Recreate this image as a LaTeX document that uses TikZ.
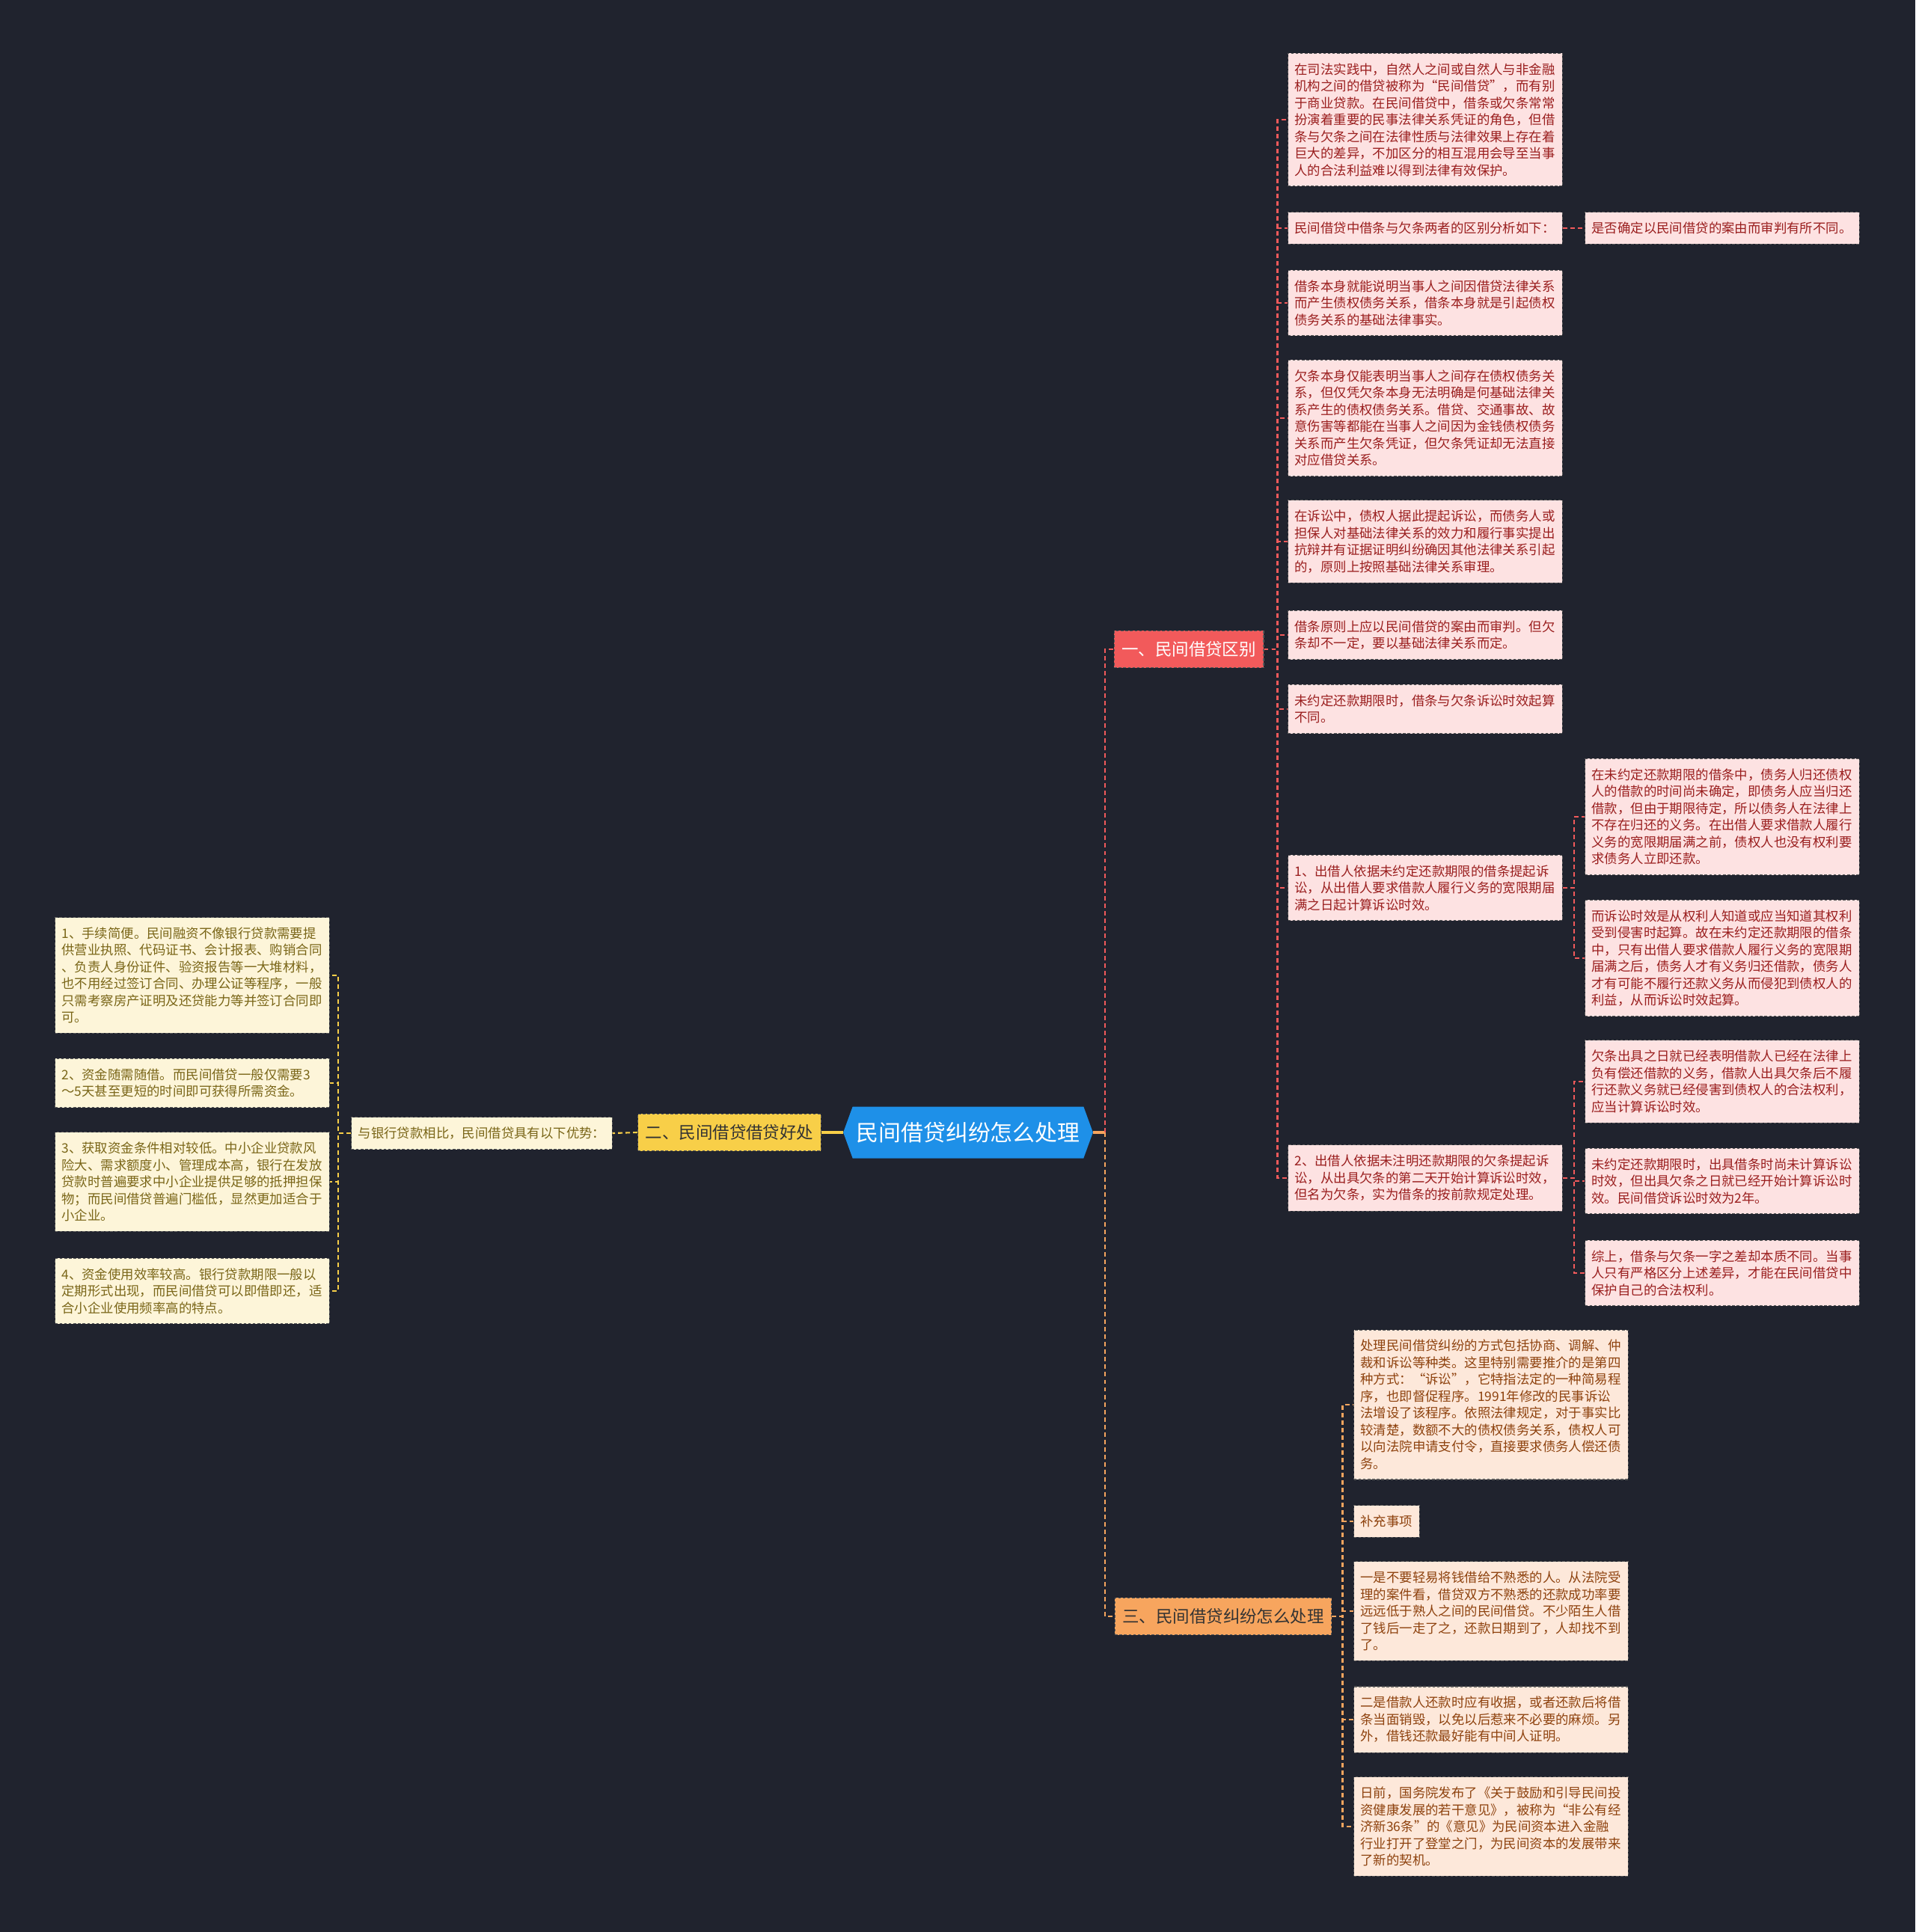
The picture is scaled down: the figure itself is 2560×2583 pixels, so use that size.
\documentclass[tikz,border=0pt]{standalone}
\usepackage{fontspec}
\setmainfont{Noto Sans CJK SC}
\usetikzlibrary{shapes.symbols}
\definecolor{bgnavy}{HTML}{20232E}
\definecolor{rootblue}{HTML}{1E90E8}
\definecolor{redmain}{HTML}{F25A5B}
\definecolor{redfill}{HTML}{FDE2E2}
\definecolor{redtext}{HTML}{9A1E1E}
\definecolor{yellowmain}{HTML}{F8CF48}
\definecolor{yellowfill}{HTML}{FDF5D9}
\definecolor{yellowtext}{HTML}{7A6618}
\definecolor{orangemain}{HTML}{F7A55E}
\definecolor{orangefill}{HTML}{FDE8DA}
\definecolor{orangetext}{HTML}{8E420E}
\begin{document}
\begin{tikzpicture}[x=0.02cm, y=-0.02cm,
  boxedge/.style={draw=black!65, dashed, dash pattern=on 2pt off 1.5pt, line width=0.6pt},
  leafbox/.style={boxedge, align=left, text width=6.98cm, inner xsep=0.18cm, inner ysep=0.265cm, font=\fontsize{9.9pt}{12.8pt}\selectfont},
  redleaf/.style={leafbox, fill=redfill, text=redtext},
  yellowleaf/.style={leafbox, fill=yellowfill, text=yellowtext},
  orangeleaf/.style={leafbox, fill=orangefill, text=orangetext},
  branchbox/.style={boxedge, inner xsep=0.2cm, inner ysep=0.285cm, font=\fontsize{12.8pt}{15pt}\selectfont},
  rootbox/.style={signal, signal to=west and east, signal pointer angle=140, fill=rootblue, text=white, minimum width=6.56cm, minimum height=1.38cm, inner xsep=0.1cm, font=\fontsize{17pt}{20pt}\selectfont},
  linkbase/.style={line width=1.2pt, dashed, dash pattern=on 3.4pt off 2.3pt},
  redlink/.style={linkbase, draw=redmain},
  yellowlink/.style={linkbase, draw=yellowmain},
  orangelink/.style={linkbase, draw=orangemain}]

\fill[bgnavy] (0,0) rectangle (2560,2583);

% centre and first level
\node[rootbox] (root) at (1294,1514) {民间借贷纠纷怎么处理};
\node[branchbox, fill=redmain, text=white] (b1) at (1589,868) {一、民间借贷区别};
\node[branchbox, fill=yellowmain, text=black!80] (b2) at (975,1514) {二、民间借贷借贷好处};
\node[branchbox, fill=orangemain, text=black!80] (b3) at (1635,2161) {三、民间借贷纠纷怎么处理};

% branch one
\node[redleaf] (r1) at (1905,160) {在司法实践中，自然人之间或自然人与非金融\\机构之间的借贷被称为“民间借贷”，而有别\\于商业贷款。在民间借贷中，借条或欠条常常\\扮演着重要的民事法律关系凭证的角色，但借\\条与欠条之间在法律性质与法律效果上存在着\\巨大的差异，不加区分的相互混用会导至当事\\人的合法利益难以得到法律有效保护。};
\node[redleaf] (r2) at (1905,305) {民间借贷中借条与欠条两者的区别分析如下：};
\node[redleaf] (r2a) at (2302,305) {是否确定以民间借贷的案由而审判有所不同。};
\node[redleaf] (r3) at (1905,405) {借条本身就能说明当事人之间因借贷法律关系\\而产生债权债务关系，借条本身就是引起债权\\债务关系的基础法律事实。};
\node[redleaf] (r4) at (1905,559) {欠条本身仅能表明当事人之间存在债权债务关\\系，但仅凭欠条本身无法明确是何基础法律关\\系产生的债权债务关系。借贷、交通事故、故\\意伤害等都能在当事人之间因为金钱债权债务\\关系而产生欠条凭证，但欠条凭证却无法直接\\对应借贷关系。};
\node[redleaf] (r5) at (1905,724) {在诉讼中，债权人据此提起诉讼，而债务人或\\担保人对基础法律关系的效力和履行事实提出\\抗辩并有证据证明纠纷确因其他法律关系引起\\的，原则上按照基础法律关系审理。};
\node[redleaf] (r6) at (1905,849) {借条原则上应以民间借贷的案由而审判。但欠\\条却不一定，要以基础法律关系而定。};
\node[redleaf] (r7) at (1905,948) {未约定还款期限时，借条与欠条诉讼时效起算\\不同。};
\node[redleaf] (r8) at (1905,1187) {1、出借人依据未约定还款期限的借条提起诉\\讼，从出借人要求借款人履行义务的宽限期届\\满之日起计算诉讼时效。};
\node[redleaf] (r9) at (1905,1575) {2、出借人依据未注明还款期限的欠条提起诉\\讼，从出具欠条的第二天开始计算诉讼时效，\\但名为欠条，实为借条的按前款规定处理。};
\node[redleaf] (r8a) at (2302,1092) {在未约定还款期限的借条中，债务人归还债权\\人的借款的时间尚未确定，即债务人应当归还\\借款，但由于期限待定，所以债务人在法律上\\不存在归还的义务。在出借人要求借款人履行\\义务的宽限期届满之前，债权人也没有权利要\\求债务人立即还款。};
\node[redleaf] (r8b) at (2302,1281) {而诉讼时效是从权利人知道或应当知道其权利\\受到侵害时起算。故在未约定还款期限的借条\\中，只有出借人要求借款人履行义务的宽限期\\届满之后，债务人才有义务归还借款，债务人\\才有可能不履行还款义务从而侵犯到债权人的\\利益，从而诉讼时效起算。};
\node[redleaf] (r9a) at (2302,1446) {欠条出具之日就已经表明借款人已经在法律上\\负有偿还借款的义务，借款人出具欠条后不履\\行还款义务就已经侵害到债权人的合法权利，\\应当计算诉讼时效。};
\node[redleaf] (r9b) at (2302,1579) {未约定还款期限时，出具借条时尚未计算诉讼\\时效，但出具欠条之日就已经开始计算诉讼时\\效。民间借贷诉讼时效为2年。};
\node[redleaf] (r9c) at (2302,1702) {综上，借条与欠条一字之差却本质不同。当事\\人只有严格区分上述差异，才能在民间借贷中\\保护自己的合法权利。};

% branch two
\node[yellowleaf, text width=, align=center] (sub) at (644,1515) {与银行贷款相比，民间借贷具有以下优势：};
\node[yellowleaf] (l1) at (257,1304) {1、手续简便。民间融资不像银行贷款需要提\\供营业执照、代码证书、会计报表、购销合同\\、负责人身份证件、验资报告等一大堆材料，\\也不用经过签订合同、办理公证等程序，一般\\只需考察房产证明及还贷能力等并签订合同即\\可。};
\node[yellowleaf] (l2) at (257,1448) {2、资金随需随借。而民间借贷一般仅需要3\\～5天甚至更短的时间即可获得所需资金。};
\node[yellowleaf] (l3) at (257,1580) {3、获取资金条件相对较低。中小企业贷款风\\险大、需求额度小、管理成本高，银行在发放\\贷款时普遍要求中小企业提供足够的抵押担保\\物；而民间借贷普遍门槛低，显然更加适合于\\小企业。};
\node[yellowleaf] (l4) at (257,1726) {4、资金使用效率较高。银行贷款期限一般以\\定期形式出现，而民间借贷可以即借即还，适\\合小企业使用频率高的特点。};

% branch three
\node[orangeleaf] (c1) at (1993,1878) {处理民间借贷纠纷的方式包括协商、调解、仲\\裁和诉讼等种类。这里特别需要推介的是第四\\种方式：“诉讼”，它特指法定的一种简易程\\序，也即督促程序。1991年修改的民事诉讼\\法增设了该程序。依照法律规定，对于事实比\\较清楚，数额不大的债权债务关系，债权人可\\以向法院申请支付令，直接要求债务人偿还债\\务。};
\node[orangeleaf, text width=, align=center, anchor=west] (c2) at (1809,2034) {补充事项};
\node[orangeleaf] (c3) at (1993,2154) {一是不要轻易将钱借给不熟悉的人。从法院受\\理的案件看，借贷双方不熟悉的还款成功率要\\远远低于熟人之间的民间借贷。不少陌生人借\\了钱后一走了之，还款日期到了，人却找不到\\了。};
\node[orangeleaf] (c4) at (1993,2299) {二是借款人还款时应有收据，或者还款后将借\\条当面销毁，以免以后惹来不必要的麻烦。另\\外，借钱还款最好能有中间人证明。};
\node[orangeleaf] (c5) at (1993,2442) {日前，国务院发布了《关于鼓励和引导民间投\\资健康发展的若干意见》，被称为“非公有经\\济新36条”的《意见》为民间资本进入金融\\行业打开了登堂之门，为民间资本的发展带来\\了新的契机。};

% connectors
\draw[line width=2pt, draw=orangemain] (root.east) -- ++(16,0) coordinate (hub);
\draw[redlink] (hub) |- (b1.west);
\draw[orangelink] (hub) |- (b3.west);
\draw[line width=2pt, draw=yellowmain] (root.west) -- (b2.east);
\draw[yellowlink] (b2.west) -- (sub.east);
\foreach \leaf in {l1,l2,l3,l4}
  \draw[yellowlink] (sub.west) -- ++(-17,0) |- (\leaf.east);
\foreach \leaf in {r1,r2,r3,r4,r5,r6,r7,r8,r9}
  \draw[redlink] (b1.east) -- ++(18,0) |- (\leaf.west);
\draw[redlink] (r2.east) -- (r2a.west);
\foreach \leaf in {r8a,r8b}
  \draw[redlink] (r8.east) -- ++(15,0) |- (\leaf.west);
\foreach \leaf in {r9a,r9b,r9c}
  \draw[redlink] (r9.east) -- ++(15,0) |- (\leaf.west);
\foreach \leaf in {c1,c2,c3,c4,c5}
  \draw[orangelink] (b3.east) -- ++(14,0) |- (\leaf.west);
\end{tikzpicture}
\end{document}
